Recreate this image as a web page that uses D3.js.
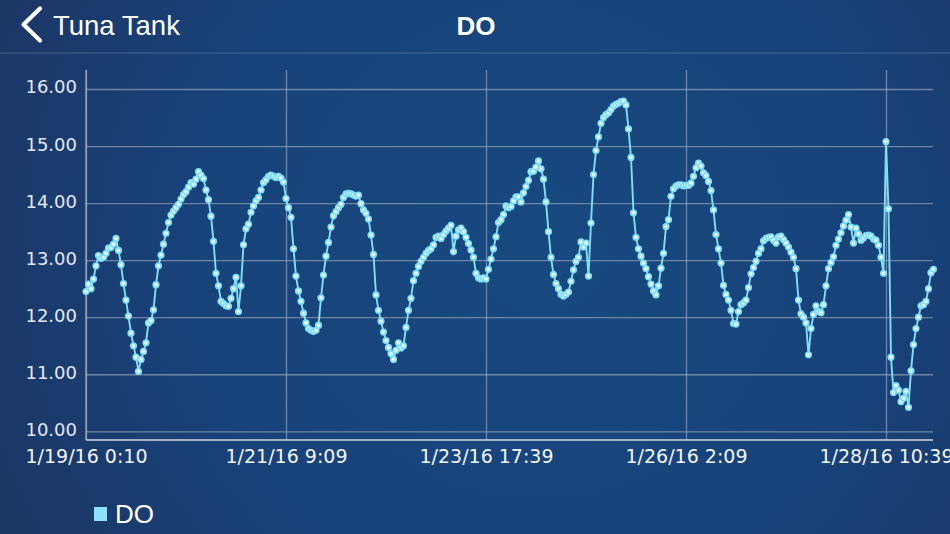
<!DOCTYPE html>
<html><head><meta charset="utf-8">
<script src="https://cdn.jsdelivr.net/npm/d3@7"></script>
<style>html,body{margin:0;padding:0;background:#1a3866;overflow:hidden}</style>
</head><body><svg id="c" width="950" height="534"></svg>
<script>
const backLabel = "Tuna Tank";
const pageTitle = "DO";
const seriesName = "DO";
const yTicks = [10, 11, 12, 13, 14, 15, 16];
const xTickIndex = [0, 80, 160, 240, 320];
const xTickLabels = ["1/19/16 0:10", "1/21/16 9:09", "1/23/16 17:39", "1/26/16 2:09", "1/28/16 10:39"];
const doValues = [
  12.45,12.58,12.50,12.67,12.90,13.08,13.03,13.05,13.12,13.21,
  13.22,13.28,13.38,13.17,12.92,12.59,12.30,12.02,11.72,11.50,
  11.30,11.05,11.26,11.40,11.55,11.90,11.94,12.13,12.57,12.90,
  13.09,13.28,13.47,13.66,13.79,13.86,13.92,13.98,14.07,14.15,
  14.20,14.28,14.36,14.33,14.42,14.55,14.49,14.43,14.23,14.06,
  13.77,13.33,12.77,12.55,12.28,12.24,12.20,12.19,12.33,12.50,
  12.70,12.10,12.55,13.27,13.55,13.63,13.84,13.95,14.04,14.10,
  14.23,14.36,14.41,14.47,14.49,14.47,14.45,14.47,14.44,14.37,
  14.08,13.92,13.75,13.20,12.72,12.46,12.28,12.07,11.90,11.80,
  11.77,11.75,11.77,11.86,12.34,12.74,13.07,13.31,13.58,13.78,
  13.85,13.92,13.98,14.10,14.16,14.17,14.16,14.14,14.12,14.14,
  13.99,13.88,13.82,13.72,13.44,13.10,12.39,12.12,11.93,11.74,
  11.59,11.47,11.36,11.26,11.42,11.55,11.46,11.50,11.82,12.12,
  12.33,12.64,12.77,12.89,12.98,13.05,13.12,13.17,13.20,13.27,
  13.40,13.42,13.38,13.45,13.51,13.56,13.61,13.15,13.42,13.53,
  13.56,13.50,13.40,13.29,13.18,13.05,12.77,12.69,12.67,12.69,
  12.67,12.84,13.02,13.20,13.41,13.66,13.71,13.80,13.95,13.92,
  13.94,14.04,14.11,14.11,14.02,14.18,14.29,14.40,14.55,14.56,
  14.63,14.74,14.60,14.42,14.02,13.50,13.05,12.75,12.59,12.50,
  12.40,12.37,12.40,12.44,12.63,12.83,12.98,13.05,13.32,13.23,
  13.30,12.72,13.65,14.50,14.92,15.16,15.40,15.50,15.55,15.58,
  15.64,15.70,15.73,15.75,15.78,15.79,15.72,15.30,14.80,13.83,
  13.40,13.20,13.07,12.95,12.85,12.71,12.58,12.46,12.39,12.55,
  12.86,13.12,13.59,13.71,14.12,14.25,14.30,14.32,14.32,14.30,
  14.31,14.31,14.35,14.47,14.62,14.70,14.65,14.53,14.48,14.38,
  14.22,13.88,13.45,13.20,12.95,12.56,12.40,12.30,12.12,11.89,
  11.88,12.10,12.22,12.25,12.30,12.52,12.76,12.87,12.98,13.12,
  13.20,13.34,13.38,13.40,13.41,13.35,13.30,13.41,13.42,13.36,
  13.30,13.23,13.14,13.05,12.85,12.30,12.06,12.00,11.90,11.34,
  11.80,12.05,12.20,12.10,12.08,12.22,12.55,12.85,12.96,13.06,
  13.26,13.37,13.48,13.60,13.70,13.80,13.58,13.30,13.56,13.46,
  13.35,13.39,13.43,13.44,13.42,13.37,13.35,13.26,13.05,12.77,
  15.08,13.90,11.30,10.68,10.80,10.72,10.52,10.58,10.70,10.42,
  11.06,11.52,11.80,12.00,12.20,12.22,12.28,12.50,12.78,12.84
];

const W = 950, H = 534;
const plot = {left: 86, right: 933, top: 70, bottom: 440};
const svg = d3.select("#c");
const defs = svg.append("defs");
const grad = defs.append("radialGradient").attr("id", "bg")
  .attr("gradientUnits", "userSpaceOnUse").attr("cx", 540).attr("cy", 250).attr("r", 640);
grad.append("stop").attr("offset", "0").attr("stop-color", "#17497f");
grad.append("stop").attr("offset", "0.55").attr("stop-color", "#18427a");
grad.append("stop").attr("offset", "1").attr("stop-color", "#1c3461");
svg.append("rect").attr("width", W).attr("height", H).attr("fill", "url(#bg)");

// header
svg.append("rect").attr("x", 0).attr("y", 52).attr("width", W).attr("height", 2)
  .attr("fill", "rgba(255,255,255,0.10)");
svg.append("path").attr("d", "M40,8.5 L23.5,24.5 L40,40.5").attr("fill", "none")
  .attr("stroke", "#ffffff").attr("stroke-width", 4.2).attr("stroke-linecap", "round").attr("stroke-linejoin", "round");
svg.append("text").attr("x", 53).attr("y", 35).text(backLabel)
  .attr("fill", "#ffffff").style("font", "27.5px 'Liberation Sans', sans-serif");
svg.append("text").attr("x", 476).attr("y", 35).attr("text-anchor", "middle").text(pageTitle)
  .attr("fill", "#ffffff").style("font", "bold 26px 'Liberation Sans', sans-serif");

const x = d3.scaleLinear().domain([xTickIndex[0], xTickIndex[xTickIndex.length - 1]]).range([86, 886]);
const y = d3.scaleLinear().domain([10, 16]).range([431.3, 89]);

const gridColor = "rgba(175,182,196,0.58)";

// y axis + horizontal grid
const gy = svg.append("g").attr("transform", `translate(${plot.left},0)`)
  .call(d3.axisLeft(y).tickValues(yTicks).tickSize(-(plot.right - plot.left)).tickPadding(9).tickFormat(d3.format(".2f")));
gy.select(".domain").remove();
gy.selectAll(".tick line").attr("stroke", gridColor).attr("stroke-width", 1.3);
gy.selectAll(".tick text").attr("fill", "#e3e8f0").attr("dy", "0.22em")
  .style("font", "18px 'DejaVu Sans', sans-serif");

// x axis + vertical grid
const gx = svg.append("g").attr("transform", `translate(0,${plot.bottom})`)
  .call(d3.axisBottom(x).tickValues(xTickIndex).tickSize(-(plot.bottom - plot.top)).tickPadding(9.5)
    .tickFormat((d, i) => xTickLabels[i]));
gx.select(".domain").remove();
gx.selectAll(".tick line").attr("stroke", gridColor).attr("stroke-width", 1.3);
gx.selectAll(".tick text").attr("fill", "#f2f5f9")
  .style("font", "19px 'DejaVu Sans', sans-serif");

// axis lines
svg.append("line").attr("x1", plot.left).attr("x2", plot.left).attr("y1", plot.top).attr("y2", plot.bottom)
  .attr("stroke", "rgba(185,192,205,0.7)").attr("stroke-width", 1.4);
svg.append("line").attr("x1", plot.left).attr("x2", plot.right).attr("y1", plot.bottom).attr("y2", plot.bottom)
  .attr("stroke", "rgba(200,206,218,0.8)").attr("stroke-width", 1.8);

// series
const lineColor = "#80def6";
svg.append("path").datum(doValues)
  .attr("d", d3.line().x((d, i) => x(i)).y(d => y(d)))
  .attr("fill", "none").attr("stroke", lineColor).attr("stroke-width", 1.9);
svg.append("g").selectAll("circle").data(doValues).join("circle")
  .attr("cx", (d, i) => x(i)).attr("cy", d => y(d)).attr("r", 2.7)
  .attr("fill", "#f2fdff").attr("stroke", lineColor).attr("stroke-width", 1.8);

// legend
svg.append("rect").attr("x", 94).attr("y", 507).attr("width", 13).attr("height", 14).attr("fill", "#8ae2fb");
svg.append("text").attr("x", 115).attr("y", 522.5).text(seriesName)
  .attr("fill", "#ffffff").style("font", "26px 'Liberation Sans', sans-serif");
</script></body></html>
